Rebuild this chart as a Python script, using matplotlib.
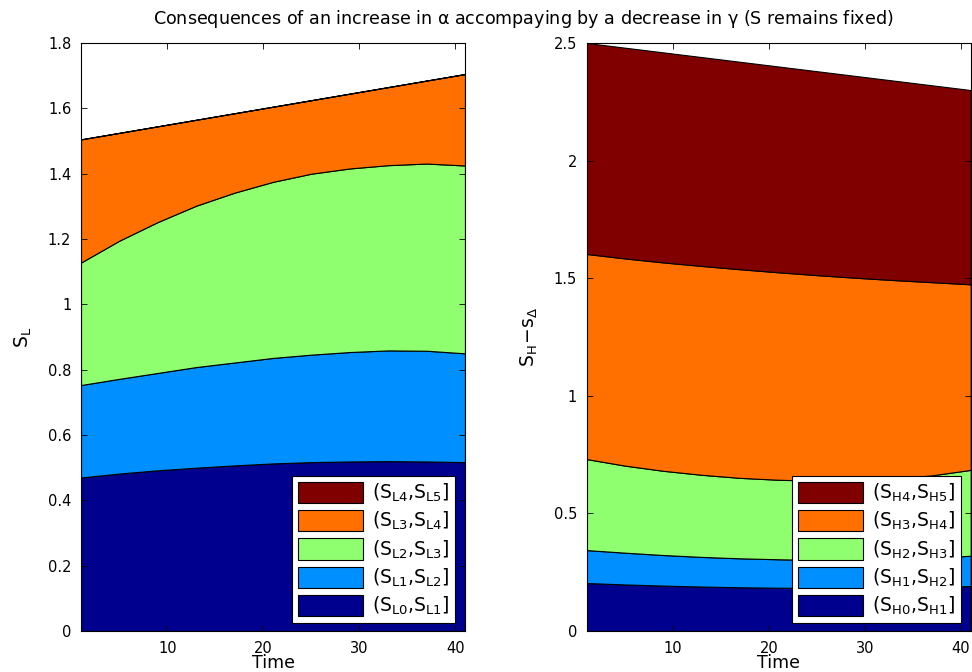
import matplotlib
matplotlib.use("Agg")
import matplotlib.pyplot as plt
from matplotlib.patches import Patch

plt.rcParams['font.family'] = ['DejaVu Sans']
plt.rcParams['mathtext.fontset'] = 'dejavusans'

# ---------------- data ----------------
time = [1, 5, 9, 13, 17, 21, 25, 29, 33, 37, 41]

# left panel: upper boundaries of the stacked bands (S_L1 .. S_L5), lower bound S_L0 = 0
S_L0 = [0, 0, 0, 0, 0, 0, 0, 0, 0, 0, 0]
S_L1 = [0.470, 0.482, 0.492, 0.500, 0.507, 0.513, 0.517, 0.519, 0.520, 0.519, 0.517]
S_L2 = [0.753, 0.772, 0.790, 0.808, 0.822, 0.836, 0.846, 0.854, 0.859, 0.858, 0.850]
S_L3 = [1.128, 1.195, 1.252, 1.302, 1.342, 1.375, 1.400, 1.416, 1.426, 1.431, 1.425]
S_L4 = [1.505, 1.525, 1.545, 1.565, 1.585, 1.605, 1.625, 1.645, 1.665, 1.685, 1.705]
S_L5 = [1.505, 1.525, 1.545, 1.565, 1.585, 1.605, 1.625, 1.645, 1.665, 1.685, 1.705]

# right panel: S_H - s_Delta boundaries
S_H0 = [0, 0, 0, 0, 0, 0, 0, 0, 0, 0, 0]
S_H1 = [0.204, 0.198, 0.193, 0.189, 0.186, 0.184, 0.183, 0.183, 0.185, 0.188, 0.191]
S_H2 = [0.344, 0.333, 0.323, 0.315, 0.309, 0.305, 0.302, 0.302, 0.305, 0.311, 0.320]
S_H3 = [0.731, 0.703, 0.681, 0.664, 0.651, 0.643, 0.639, 0.640, 0.648, 0.662, 0.685]
S_H4 = [1.603, 1.584, 1.567, 1.552, 1.538, 1.525, 1.513, 1.502, 1.492, 1.483, 1.474]
S_H5 = [2.500, 2.480, 2.460, 2.440, 2.420, 2.400, 2.380, 2.360, 2.340, 2.320, 2.300]

left_labels = [r'$\mathregular{(S_{L0}{,}S_{L1}]}$', r'$\mathregular{(S_{L1}{,}S_{L2}]}$',
               r'$\mathregular{(S_{L2}{,}S_{L3}]}$', r'$\mathregular{(S_{L3}{,}S_{L4}]}$',
               r'$\mathregular{(S_{L4}{,}S_{L5}]}$']
right_labels = [r'$\mathregular{(S_{H0}{,}S_{H1}]}$', r'$\mathregular{(S_{H1}{,}S_{H2}]}$',
                r'$\mathregular{(S_{H2}{,}S_{H3}]}$', r'$\mathregular{(S_{H3}{,}S_{H4}]}$',
                r'$\mathregular{(S_{H4}{,}S_{H5}]}$']
left_yticks = [0, 0.2, 0.4, 0.6, 0.8, 1, 1.2, 1.4, 1.6, 1.8]
left_yticklabels = ['0', '0.2', '0.4', '0.6', '0.8', '1', '1.2', '1.4', '1.6', '1.8']
right_yticks = [0, 0.5, 1, 1.5, 2, 2.5]
right_yticklabels = ['0', '0.5', '1', '1.5', '2', '2.5']
xticks = [10, 20, 30, 40]

colors = ['#00008F', '#008FFF', '#8FFF70', '#FF7000', '#800000']

title = r'Consequences of an increase in $\mathregular{\alpha}$ accompaying by a decrease in $\mathregular{\gamma}$ (S remains fixed)'

# ---------------- figure ----------------
fig = plt.figure(figsize=(9.72, 6.72), dpi=100)
axL = fig.add_axes([81/972, 1-631/672, 384/972, 588/672])
axR = fig.add_axes([586.7/972, 1-631/672, 384/972, 588/672])


def draw(ax, bounds, labels, yticks, yticklabels, ylim, ylabel):
    for i in range(5):
        ax.fill_between(time, bounds[i], bounds[i+1], facecolor=colors[i],
                        edgecolor='black', linewidth=0.8)
    ax.set_xlim(1, 41)
    ax.set_ylim(*ylim)
    ax.set_xticks(xticks)
    ax.set_yticks(yticks)
    ax.set_yticklabels(yticklabels)
    ax.tick_params(direction='in', top=True, right=True, length=4, width=0.6,
                   labelsize=10.5, pad=7)
    for s in ax.spines.values():
        s.set_linewidth(0.8)
    ax.set_xlabel('Time', fontsize=12.5)
    ax.xaxis.label.set_va('bottom')
    ax.xaxis.set_label_coords(0.5, -0.0695)
    ax.set_ylabel(ylabel, fontsize=13.5)
    ax.yaxis.set_label_coords(-0.122, 0.5)
    handles = [Patch(facecolor=colors[i], edgecolor='black', linewidth=0.8, label=labels[i])
               for i in range(4, -1, -1)]
    ax.legend(handles=handles, loc='lower right', bbox_to_anchor=(0.975, 0.014),
              fontsize=13.5, frameon=True, fancybox=False, edgecolor='black',
              framealpha=1, borderaxespad=0, borderpad=0.32, handlelength=3.47,
              handleheight=1.36, handletextpad=0.48, labelspacing=0.31)
    ax.get_legend().get_frame().set_linewidth(0.8)


draw(axL, [S_L0, S_L1, S_L2, S_L3, S_L4, S_L5], left_labels,
     left_yticks, left_yticklabels, (0, 1.8), r'$\mathregular{S_L}$')
draw(axR, [S_H0, S_H1, S_H2, S_H3, S_H4, S_H5], right_labels,
     right_yticks, right_yticklabels, (0, 2.5), r'$\mathregular{S_H\!-\!s_\Delta}$')

fig.text(0.538, 1-19/672, title, ha='center', va='center', fontsize=12.6)

fig.savefig('out.png', dpi=100)
